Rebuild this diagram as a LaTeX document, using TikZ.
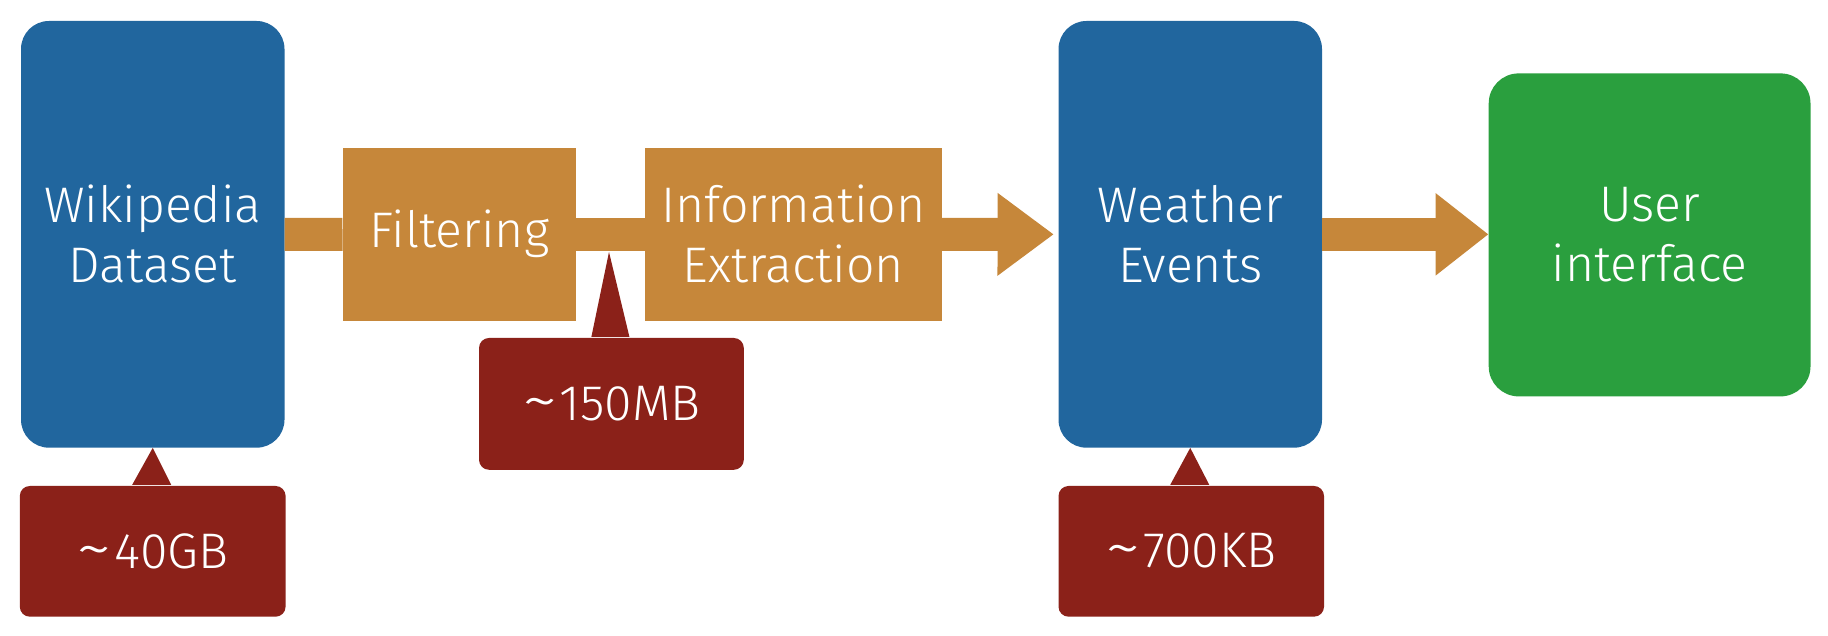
\documentclass[tikz,border=0pt]{standalone}
\usepackage{graphicx}
\usepackage{fontspec}
\setmainfont{Fira Sans}[UprightFont=* Light]
\usetikzlibrary{arrows.meta,calc}
\definecolor{cblue}{RGB}{33,102,158}
\definecolor{corange}{RGB}{198,135,58}
\definecolor{cred}{RGB}{139,33,25}
\definecolor{cgreen}{RGB}{42,159,62}
\newcommand{\tld}{\raisebox{-0.02em}{\scalebox{1.5}[1.25]{\textasciitilde}}\kern0.04em}
\tikzset{
  txt/.style={text=white, align=center, font=\fontsize{50}{60}\selectfont, inner sep=0pt},
  bigbox/.style={txt, fill=cblue, rounded corners=28pt},
  procbox/.style={txt, fill=corange},
  sizebox/.style={txt, fill=cred, rounded corners=10pt},
  greenbox/.style={txt, fill=cgreen, rounded corners=30pt},
  flow/.style={draw=corange, line width=33pt},
  pointer/.style={fill=cred},
}
\begin{document}
\begin{tikzpicture}[x=1pt,y=1pt]
\useasboundingbox (0,0) rectangle (1828,636);
\node[bigbox, minimum width=263.5pt, minimum height=426.7pt] (wiki) at (152.75,401.65) {Wikipedia\\Dataset};
\node[sizebox, minimum width=265.8pt, minimum height=130.7pt] (gb40) at (152.7,84.65) {\tld40GB};
\node[procbox, minimum width=233.3pt, minimum height=172.6pt] (filt) at (459.35,401.7) {Filtering};
\node[procbox, minimum width=297.3pt, minimum height=172.6pt] (ie) at (793.35,401.7) {Information\\Extraction};
\node[bigbox, minimum width=263.5pt, minimum height=426.7pt] (we) at (1190.25,401.65) {Weather\\Events};
\node[sizebox, minimum width=265.5pt, minimum height=130.7pt] (kb700) at (1191.25,84.65) {\tld700KB};
\node[greenbox, minimum width=321.8pt, minimum height=323pt] (ui) at (1649.6,401.1) {User\\interface};
\node[sizebox, minimum width=264.8pt, minimum height=131.8pt] (mb150) at (611.4,232.1) {\tld150MB};
\coordinate (mbtip) at (609,384);
\coordinate (ietip) at ($(we.west)+(-4.5,0)$);
% flow bars
\draw[flow] (wiki.east) -- (filt.west);
\draw[flow] (filt.east) -- (ie.west);
\draw[flow, -{Triangle[length=56.3pt,width=79pt]}] (ie.east) -- (ietip);
\draw[flow, -{Triangle[length=53pt,width=79pt]}] (we.east) -- (we.east -| ui.west);
% pointers
\fill[pointer] ($(gb40.north)+(-20.5,1)$) -- (wiki.south) -- ($(gb40.north)+(18.5,1)$) -- cycle;
\fill[pointer] ($(kb700.north)+(-21,1)$) -- (we.south) -- ($(kb700.north)+(18,1)$) -- cycle;
\fill[pointer] ($(mb150.north)+(-20,1)$) -- (mbtip) -- ($(mb150.north)+(18,1)$) -- cycle;
\end{tikzpicture}
\end{document}
